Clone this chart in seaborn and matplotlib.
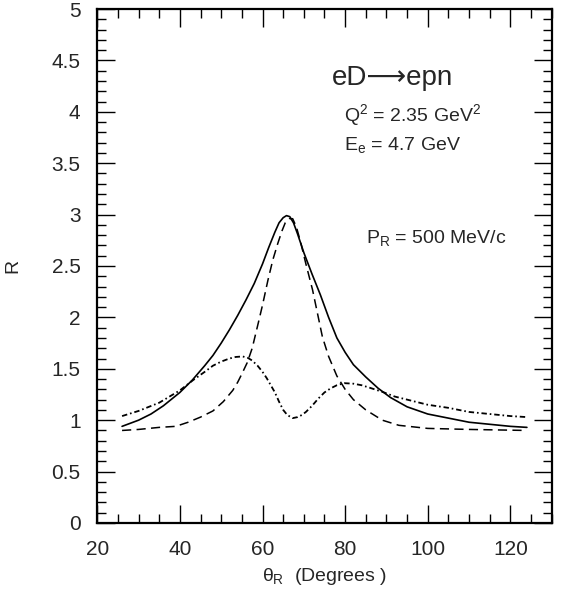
import numpy as np
import pandas as pd
import matplotlib
matplotlib.use("Agg")
import matplotlib.pyplot as plt
import seaborn as sns
from matplotlib.ticker import MultipleLocator

# ---- data ----
solid_x = [26, 30, 33, 36, 40, 43, 46, 48, 50, 52, 54, 56, 58, 60, 61.5, 63, 64, 65, 65.8, 66.6, 67.5, 68.5, 70, 72, 74, 76, 78, 80, 82, 85, 88, 91, 95, 100, 105, 110, 115, 120, 124]
solid_y = [0.94, 1.00, 1.06, 1.14, 1.27, 1.39, 1.53, 1.63, 1.75, 1.88, 2.02, 2.17, 2.33, 2.52, 2.68, 2.83, 2.92, 2.97, 2.99, 2.98, 2.92, 2.81, 2.63, 2.42, 2.22, 2.00, 1.80, 1.66, 1.54, 1.42, 1.31, 1.22, 1.13, 1.06, 1.02, 0.98, 0.96, 0.94, 0.93]

dashed_x = [26, 30, 35, 39, 42, 45, 48, 50.5, 52.8, 54, 55, 56.3, 57.5, 59, 60, 61.3, 62.5, 63.7, 64.7, 65.5, 66.5, 67.3, 68.2, 69.3, 70.5, 72.1, 73.3, 74.5, 76, 78, 80, 82, 85, 89, 93, 100, 110, 124]
dashed_y = [0.90, 0.91, 0.93, 0.94, 0.98, 1.03, 1.09, 1.18, 1.29, 1.37, 1.45, 1.56, 1.70, 1.95, 2.12, 2.36, 2.56, 2.72, 2.84, 2.92, 2.96, 2.96, 2.88, 2.72, 2.52, 2.27, 2.04, 1.81, 1.62, 1.43, 1.30, 1.20, 1.10, 1.00, 0.95, 0.92, 0.91, 0.90]

dashdot_x = [26, 30, 35, 40, 43.2, 46, 48, 50, 52, 53.5, 55.2, 56.5, 57.5, 58.8, 60, 61, 62, 63, 64, 65, 66, 67.3, 68.5, 69.5, 70.5, 72, 73.5, 75, 76.5, 78, 79.8, 82, 84, 86, 89.4, 92, 95, 100, 105, 110, 115, 120, 124]
dashdot_y = [1.04, 1.09, 1.17, 1.29, 1.39, 1.47, 1.53, 1.57, 1.60, 1.615, 1.62, 1.605, 1.58, 1.53, 1.47, 1.41, 1.34, 1.27, 1.18, 1.10, 1.05, 1.02, 1.03, 1.05, 1.08, 1.14, 1.21, 1.27, 1.31, 1.34, 1.36, 1.355, 1.34, 1.315, 1.27, 1.23, 1.20, 1.15, 1.12, 1.08, 1.06, 1.04, 1.03]

x_ticks = [20, 40, 60, 80, 100, 120]
y_ticks = [0, 0.5, 1, 1.5, 2, 2.5, 3, 3.5, 4, 4.5, 5]
y_ticklabels = ["0", "0.5", "1", "1.5", "2", "2.5", "3", "3.5", "4", "4.5", "5"]

sns.set_style("ticks")
plt.rcParams['font.family'] = ['Liberation Sans', 'DejaVu Sans']
plt.rcParams['mathtext.fontset'] = 'custom'
plt.rcParams['mathtext.rm'] = 'Liberation Sans'
plt.rcParams['mathtext.it'] = 'Liberation Sans'
plt.rcParams['mathtext.bf'] = 'Liberation Sans:bold'

fig = plt.figure(figsize=(5.61, 5.89), dpi=100)
ax = fig.add_axes([0.1734, 0.1121, 0.81, 0.8726])

df_s = pd.DataFrame({"x": solid_x, "y": solid_y})
df_d = pd.DataFrame({"x": dashed_x, "y": dashed_y})
df_dd = pd.DataFrame({"x": dashdot_x, "y": dashdot_y})

sns.lineplot(data=df_s, x="x", y="y", ax=ax, color="black", lw=1.2, estimator=None, sort=False)
sns.lineplot(data=df_d, x="x", y="y", ax=ax, color="black", lw=1.1, estimator=None, sort=False,
             linestyle=(0, (6, 3.5)))
sns.lineplot(data=df_dd, x="x", y="y", ax=ax, color="black", lw=1.3, estimator=None, sort=False,
             linestyle=(0, (3.0, 1.6, 0.9, 1.6)))

ax.set_xlim(20, 130)
ax.set_ylim(0, 5)
ax.set_xticks(x_ticks)
ax.set_yticks(y_ticks)
ax.set_yticklabels(y_ticklabels)
ax.xaxis.set_minor_locator(MultipleLocator(5))
ax.yaxis.set_minor_locator(MultipleLocator(0.1))
ax.tick_params(which='both', direction='in', top=True, right=True, color='black', width=1.0,
               labelsize=15)
ax.tick_params(which='major', length=13)
ax.tick_params(which='minor', length=6.5)
ax.tick_params(axis='y', which='major', pad=12)
ax.tick_params(axis='x', which='major', pad=12)
for s in ax.spines.values():
    s.set_linewidth(1.6)
    s.set_color('black')

ax.set_xlabel(r"$\theta_R$  (Degrees )", fontsize=14, labelpad=5)
ax.set_ylabel("R", fontsize=14, labelpad=22)

ax.text(76.9, 4.33, "eD⟶epn", fontsize=20, ha='left', va='center')
ax.text(79.8, 3.97, r"Q$^2$ = 2.35 GeV$^2$", fontsize=14, ha='left', va='center')
ax.text(79.8, 3.68, r"E$_e$ = 4.7 GeV", fontsize=14, ha='left', va='center')
ax.text(85.1, 2.77, r"P$_R$ = 500 MeV/c", fontsize=14, ha='left', va='center')

fig.savefig("out.png", dpi=100)
